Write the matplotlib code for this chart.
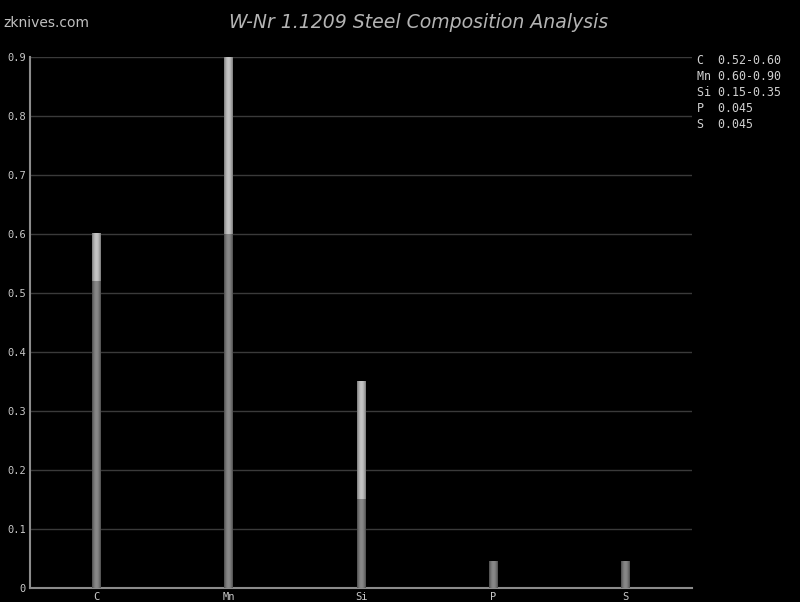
import numpy as np
import matplotlib.pyplot as plt
from matplotlib.colors import LinearSegmentedColormap

elements = ['C', 'Mn', 'Si', 'P', 'S']
min_vals = [0.52, 0.60, 0.15, 0.045, 0.045]
max_vals = [0.60, 0.90, 0.35, 0.045, 0.045]
legend_lines = ['C  0.52-0.60', 'Mn 0.60-0.90', 'Si 0.15-0.35', 'P  0.045', 'S  0.045']
yticks = [0, 0.1, 0.2, 0.3, 0.4, 0.5, 0.6, 0.7, 0.8, 0.9]

# cylinder-ish shading across the bar width
prof = np.sin(np.linspace(0.15, np.pi - 0.15, 16)) ** 0.8
dark_cmap = LinearSegmentedColormap.from_list('dk', ['#404040', '#888888'])
light_cmap = LinearSegmentedColormap.from_list('lt', ['#6a6a6a', '#c4c4c4'])

fig = plt.figure(figsize=(8, 6.02), dpi=100, facecolor='black')
ax = fig.add_axes([0.0375, 0.0233, 0.8275, 0.882], facecolor='black')

x = np.arange(len(elements))
w = 0.065
for i in range(len(elements)):
    grad = np.tile(prof, (2, 1))
    ax.imshow(grad, cmap=dark_cmap, extent=(x[i] - w / 2, x[i] + w / 2, 0, min_vals[i]),
              aspect='auto', zorder=3, vmin=0, vmax=1, interpolation='bilinear')
    if max_vals[i] > min_vals[i]:
        ax.imshow(grad, cmap=light_cmap, extent=(x[i] - w / 2, x[i] + w / 2, min_vals[i], max_vals[i]),
                  aspect='auto', zorder=3, vmin=0, vmax=1, interpolation='bilinear')

ax.set_xlim(-0.5, len(elements) - 0.5)
ax.set_ylim(0, 0.9)
ax.set_yticks(yticks)
ax.set_yticklabels(['0'] + [f'{v:.1f}' for v in yticks[1:]])
ax.set_xticks(x)
ax.set_xticklabels(elements)
for t in ax.get_xticklabels() + ax.get_yticklabels():
    t.set_family('DejaVu Sans Mono')
    t.set_fontsize(7.5)
    t.set_color('#c8c8c8')
ax.tick_params(length=0, pad=3)
ax.yaxis.grid(True, color='#3a3a3a', linewidth=1)
ax.set_axisbelow(True)
for s in ['top', 'right']:
    ax.spines[s].set_visible(False)
for s in ['left', 'bottom']:
    ax.spines[s].set_color('#8c8c8c')
    ax.spines[s].set_linewidth(1.5)

fig.text(0.523, 0.963, 'W-Nr 1.1209 Steel Composition Analysis', ha='center', va='center',
         fontsize=13.6, style='italic', color='#b4b4b4', family='DejaVu Sans')
fig.text(0.004, 0.962, 'zknives.com', ha='left', va='center', fontsize=10,
         color='#c0c0c0', family='DejaVu Sans')

for k, line in enumerate(legend_lines):
    fig.text(0.871, 0.9 - k * 0.0266, line, ha='left', va='center', fontsize=8.4,
             color='#d0d0d0', family='DejaVu Sans Mono')

fig.savefig('out.png', dpi=100, facecolor='black')
